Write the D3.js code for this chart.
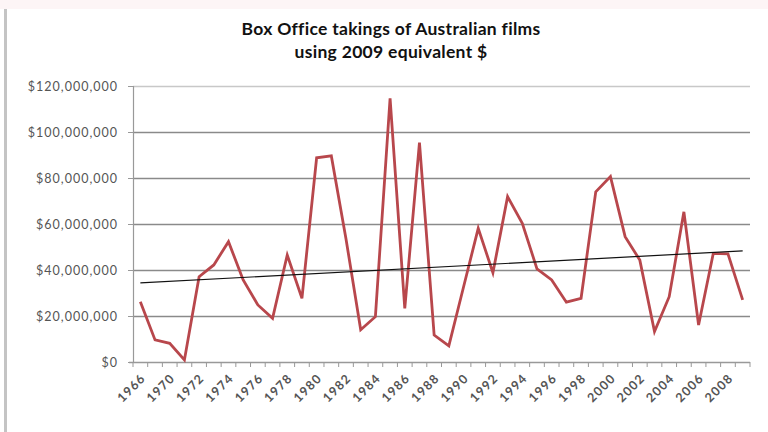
<!DOCTYPE html>
<html>
<head>
<meta charset="utf-8">
<script src="https://cdn.jsdelivr.net/npm/d3@7"></script>
<style>
	body { margin: 0; background: #fff; }
	text { font-family: Lato, "Open Sans", sans-serif; }
	.title { font-size: 17.5px; font-weight: bold; fill: #111; letter-spacing: 0.3px; }
	.yAxis text { font-size: 12.5px; fill: #555; letter-spacing: 1px; }
	.xAxis text { font-size: 12.5px; fill: #555; font-weight: bold; letter-spacing: 1.2px; }
</style>
</head>
<body>
<div id="chart"></div>
<script>
// categories (index 1 sits between the 1966 and 1970 labels and is never labelled)
var years = [1966, 1968, 1970, 1971, 1972, 1973, 1974, 1975, 1976, 1977, 1978, 1979,
	1980, 1981, 1982, 1983, 1984, 1985, 1986, 1987, 1988, 1989, 1990, 1991, 1992, 1993,
	1994, 1995, 1996, 1997, 1998, 1999, 2000, 2001, 2002, 2003, 2004, 2005, 2006, 2007,
	2008, 2009];

// takings in millions of 2009 dollars
var takings = [26.2, 9.6, 8.1, 0.9, 37.1, 42.2, 52.3, 35.7, 24.8, 19.0, 46.5, 27.7,
	88.8, 89.6, 53.5, 14.0, 19.7, 114.6, 23.3, 95.4, 11.7, 7.0, 32.6, 58.1, 38.8, 71.9,
	60.3, 40.5, 35.7, 26.0, 27.7, 74.0, 80.6, 54.5, 44.3, 13.2, 28.4, 65.3, 16.1, 47.2,
	47.0, 27.0];

var yTicks = [0, 20, 40, 60, 80, 100, 120];
var xLabelYears = [1966, 1970, 1972, 1974, 1976, 1978, 1980, 1982, 1984, 1986, 1988,
	1990, 1992, 1994, 1996, 1998, 2000, 2002, 2004, 2006, 2008];

var width = 768, height = 432;
var margin = {top: 86, right: 18, bottom: 70, left: 133};
var plotW = width - margin.left - margin.right;
var plotH = height - margin.top - margin.bottom;

var svg = d3.select("#chart")
	.append("svg")
	.attr("width", width)
	.attr("height", height)
;

// frame remnants of the screenshot
svg.append("rect")
	.attr("x", 0).attr("y", 0)
	.attr("width", width).attr("height", 9)
	.attr("fill", "#fdf5f6")
;
svg.append("rect")
	.attr("x", 4).attr("y", 9)
	.attr("width", 3).attr("height", height - 9)
	.attr("fill", "#c4c4c4")
;

var xScale = d3.scaleBand()
	.domain(years)
	.range([0, plotW])
;

var yScale = d3.scaleLinear()
	.domain([0, 120])
	.range([plotH, 0])
;

var plot = svg.append("g")
	.attr("transform", "translate(" + margin.left + "," + margin.top + ")")
;

// gridlines
plot.selectAll("line.grid")
	.data(yTicks.slice(1))
	.enter()
	.append("line")
	.attr("class", "grid")
	.attr("x1", 0)
	.attr("x2", plotW)
	.attr("y1", function(d) { return Math.round(yScale(d)) + 0.5; })
	.attr("y2", function(d) { return Math.round(yScale(d)) + 0.5; })
	.attr("stroke", function(d) { return d === 120 ? "#c8c8c8" : "#8a8a8a"; })
	.attr("stroke-width", 1.5)
;

// y axis
var yAxis = d3.axisLeft(yScale)
	.tickValues(yTicks)
	.tickSize(5)
	.tickPadding(10)
	.tickFormat(function(d) { return "$" + d3.format(",")(d * 1000000); })
;
var yG = plot.append("g").attr("class", "yAxis").call(yAxis);
yG.select(".domain").attr("stroke", "#999").attr("stroke-width", 1.2);
yG.selectAll(".tick line").attr("stroke", "#999");

// x axis with ticks between categories
var xG = plot.append("g")
	.attr("class", "xAxis")
	.attr("transform", "translate(0," + plotH + ")")
;
xG.append("line")
	.attr("x1", -4).attr("x2", plotW)
	.attr("y1", 0.5).attr("y2", 0.5)
	.attr("stroke", "#999").attr("stroke-width", 1.5)
;
xG.selectAll("line.tick")
	.data(years.concat(["end"]))
	.enter()
	.append("line")
	.attr("class", "tick")
	.attr("x1", function(d, i) { return i * xScale.step(); })
	.attr("x2", function(d, i) { return i * xScale.step(); })
	.attr("y1", 0)
	.attr("y2", 5)
	.attr("stroke", "#999")
;
xG.selectAll("text")
	.data(xLabelYears)
	.enter()
	.append("text")
	.attr("text-anchor", "end")
	.attr("transform", function(d) {
		var x = xScale(d) + xScale.bandwidth() / 2 + 6;
		return "translate(" + x + ",17) rotate(-45)";
	})
	.text(function(d) { return d; })
;

// the takings line
var line = d3.line()
	.x(function(d, i) { return xScale(years[i]) + xScale.bandwidth() / 2; })
	.y(function(d) { return yScale(d); })
;
plot.append("path")
	.datum(takings)
	.attr("d", line)
	.attr("fill", "none")
	.attr("stroke", "#b8474c")
	.attr("stroke-width", 2.8)
	.attr("stroke-linejoin", "miter")
;

// linear trend line (least squares over category index)
var n = takings.length;
var meanX = (n - 1) / 2;
var meanY = d3.mean(takings);
var sxy = d3.sum(takings, function(d, i) { return (i - meanX) * (d - meanY); });
var sxx = d3.sum(takings, function(d, i) { return (i - meanX) * (i - meanX); });
var slope = sxy / sxx;
var intercept = meanY - slope * meanX;
plot.append("line")
	.attr("x1", xScale(years[0]) + xScale.bandwidth() / 2)
	.attr("x2", xScale(years[n - 1]) + xScale.bandwidth() / 2)
	.attr("y1", yScale(intercept))
	.attr("y2", yScale(intercept + slope * (n - 1)))
	.attr("stroke", "#111")
	.attr("stroke-width", 1.2)
;

/*
	Append title
*/
svg.append("text")
	.attr("class", "title")
	.attr("x", 391)
	.attr("y", 35)
	.attr("text-anchor", "middle")
	.text("Box Office takings of Australian films")
;
svg.append("text")
	.attr("class", "title")
	.attr("x", 391)
	.attr("y", 58)
	.attr("text-anchor", "middle")
	.text("using 2009 equivalent $")
;
</script>
</body>
</html>
